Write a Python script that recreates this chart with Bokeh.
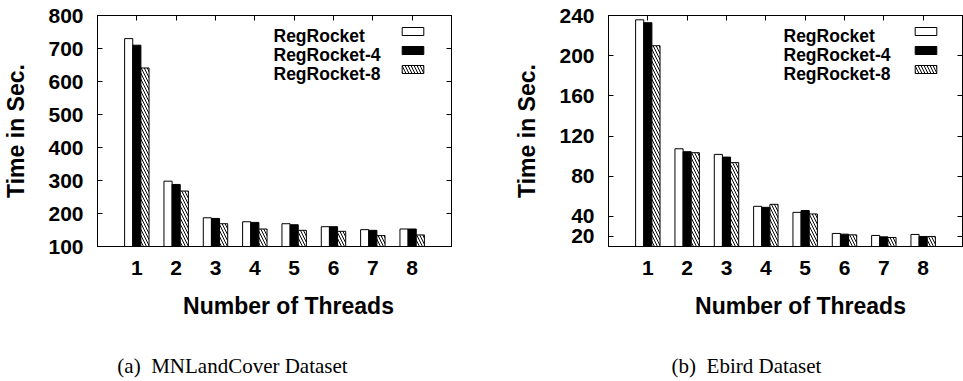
from bokeh.plotting import figure
from bokeh.models import (Range1d, FixedTicker, LinearAxis, Legend, LegendItem,
                          Label, ColumnDataSource)
from bokeh.transform import dodge
from bokeh.layouts import row, column
from bokeh.embed import file_html
from bokeh.resources import INLINE

# ---------------- data ----------------
threads = [1, 2, 3, 4, 5, 6, 7, 8]
series_names = ["RegRocket", "RegRocket-4", "RegRocket-8"]

# (a) MNLandCover Dataset
mn_regrocket = [730, 298, 187, 175, 169, 160, 151, 153]
mn_regrocket4 = [710, 288, 185, 173, 166, 160, 149, 153]
mn_regrocket8 = [641, 268, 169, 153, 149, 146, 133, 135]
mn_yticks = [100, 200, 300, 400, 500, 600, 700, 800]
mn_yrange = [100, 800]

# (b) Ebird Dataset
eb_regrocket = [235.7, 107.3, 101.7, 50, 44, 23, 21, 22]
eb_regrocket4 = [232.8, 104.4, 99, 49, 45.8, 22.3, 19.6, 20]
eb_regrocket8 = [209.9, 103.4, 93.5, 52, 42.4, 21.6, 19, 20]
eb_yticks = [20, 40, 80, 120, 160, 200, 240]
eb_yrange = [10, 240]

captions = ["(a)\u00a0\u00a0MNLandCover Dataset", "(b)\u00a0\u00a0Ebird Dataset"]
x_title = "Number of Threads"
y_title = "Time in Sec."

FONT = "Liberation Sans"
SERIF = "Liberation Serif"
BW = 0.207
MAIN_H = 290
CAP_H = 381 - MAIN_H


def style_axis(ax, ticks, label_size, show_labels=True):
    ax.ticker = FixedTicker(ticks=ticks)
    ax.axis_line_color = "black"
    ax.axis_line_width = 1
    ax.major_tick_in = 5
    ax.major_tick_out = 0
    ax.major_tick_line_color = "black"
    ax.minor_tick_in = 0
    ax.minor_tick_out = 0
    ax.minor_tick_line_color = None
    ax.major_label_text_font = FONT
    ax.major_label_text_font_style = "bold"
    ax.major_label_text_font_size = label_size
    if show_labels:
        ax.major_label_text_color = "black"
    else:
        ax.major_label_text_color = None
        ax.major_label_standoff = 0


def build(vals, yr, yticks, width, min_left, min_right, leg_glyph_x, leg_text_x):
    src = ColumnDataSource(dict(x=threads, a=vals[0], b=vals[1], c=vals[2]))
    p = figure(width=width, height=MAIN_H, x_range=Range1d(0, 9),
               y_range=Range1d(yr[0], yr[1]), output_backend="svg",
               toolbar_location=None, min_border_left=min_left,
               min_border_right=min_right, min_border_top=15,
               min_border_bottom=MAIN_H - 246)
    p.xgrid.visible = False
    p.ygrid.visible = False
    p.outline_line_color = "black"
    p.outline_line_alpha = 1
    p.background_fill_color = "white"
    p.border_fill_color = "white"

    r1 = p.vbar(x=dodge("x", -BW, range=p.x_range), top="a", bottom=yr[0],
                width=BW, source=src, fill_color="white", line_color="black",
                line_width=1)
    r2 = p.vbar(x=dodge("x", 0, range=p.x_range), top="b", bottom=yr[0],
                width=BW, source=src, fill_color="black", line_color="black",
                line_width=1)
    r3 = p.vbar(x=dodge("x", BW, range=p.x_range), top="c", bottom=yr[0],
                width=BW, source=src, fill_color="white", line_color="black",
                line_width=1, hatch_pattern="\\", hatch_color="black",
                hatch_scale=6, hatch_weight=1)

    # left axis
    ya = p.yaxis[0]
    style_axis(ya, yticks, "21px")
    ya.major_label_standoff = 14
    ya.axis_label = y_title
    ya.axis_label_text_font = FONT
    ya.axis_label_text_font_style = "bold"
    ya.axis_label_text_font_size = "23px"
    ya.axis_label_text_color = "black"
    ya.axis_label_standoff = 16

    # bottom axis
    xa = p.xaxis[0]
    style_axis(xa, threads, "21px")
    xa.major_label_standoff = 14

    # mirror ticks (no labels)
    top = LinearAxis()
    style_axis(top, threads, "1px", show_labels=False)
    p.add_layout(top, "above")
    right = LinearAxis()
    style_axis(right, yticks, "1px", show_labels=False)
    p.add_layout(right, "right")

    # legend: text on the left, sample box on the right
    legend = Legend(items=[LegendItem(label=" ", renderers=[r1]),
                           LegendItem(label=" ", renderers=[r2]),
                           LegendItem(label=" ", renderers=[r3])],
                    location=(leg_glyph_x, 168), glyph_width=27, glyph_height=10,
                    label_standoff=0, label_text_font=FONT,
                    label_text_font_style="bold", label_text_font_size="17px",
                    label_height=19, spacing=0, padding=0, margin=0,
                    background_fill_alpha=0, border_line_alpha=0)
    p.add_layout(legend, "center")
    for name, yb in zip(series_names, [211, 192, 173]):
        p.add_layout(Label(x=leg_text_x, y=yb, x_units="screen",
                           y_units="screen", text=name, text_align="left",
                           text_baseline="alphabetic", text_font=FONT,
                           text_font_style="bold", text_font_size="17.5px",
                           text_color="black"))
    return p


def caption_fig(width, title_x, caption, cap_x):
    c = figure(width=width, height=CAP_H, x_range=Range1d(0, 1),
               y_range=Range1d(0, 1), output_backend="svg",
               toolbar_location=None, x_axis_type=None, y_axis_type=None,
               min_border_left=0, min_border_right=0, min_border_top=0,
               min_border_bottom=0)
    c.xgrid.visible = False
    c.ygrid.visible = False
    c.outline_line_color = None
    c.background_fill_color = "white"
    c.border_fill_color = "white"
    c.add_layout(Label(x=title_x, y=CAP_H - (313 - MAIN_H) + 8, x_units="screen",
                       y_units="screen", text=x_title, text_align="center",
                       text_baseline="alphabetic", text_font=FONT,
                       text_font_style="bold", text_font_size="23px",
                       text_color="black"))
    c.add_layout(Label(x=cap_x, y=CAP_H - (373 - MAIN_H) + 8, x_units="screen",
                       y_units="screen", text=caption, text_align="center",
                       text_baseline="alphabetic", text_font=SERIF,
                       text_font_size="21px", text_color="black"))
    return c


p1 = build([mn_regrocket, mn_regrocket4, mn_regrocket8], mn_yrange, mn_yticks,
           481, 96, 30, 302, 176)
p2 = build([eb_regrocket, eb_regrocket4, eb_regrocket8], eb_yrange, eb_yticks,
           482, 127, 1, 304, 175)
c1 = caption_fig(481, 288, captions[0], 232)
c2 = caption_fig(482, 319, captions[1], 265)

layout = column(row(p1, p2), row(c1, c2))
open("out.html", "w").write(file_html(layout, INLINE))
